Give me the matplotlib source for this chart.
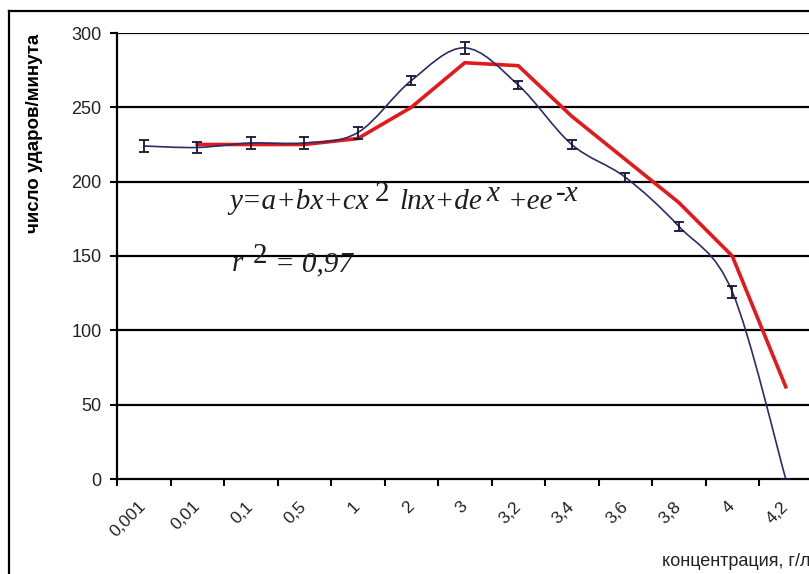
import numpy as np
import matplotlib.pyplot as plt
import matplotlib.transforms as mtransforms
from matplotlib.path import Path
from matplotlib.patches import PathPatch
from matplotlib.lines import Line2D

plt.rcParams['font.family'] = ['Liberation Sans', 'DejaVu Sans']

# concentration categories, g/l
categories = ['0,001', '0,01', '0,1', '0,5', '1', '2', '3', '3,2', '3,4', '3,6', '3,8', '4', '4,2']
# measured heart rate (beats/min) and error
measured = [224, 223, 226, 226, 233, 268, 290, 265, 225, 203, 170, 126, 0]
errors = [4, 4, 4, 4, 4, 3, 4, 3, 3, 3, 3, 4, 0]
# fitted curve
fitted = [np.nan, 225, 225, 225, 229, 250, 280, 278, 244, 215, 186, 150, 62]


# smooth line like excel (bezier through the points)
def smooth_path(x, y):
    pts = np.column_stack([x, y]).astype(float)
    verts = [pts[0]]
    codes = [Path.MOVETO]
    n = len(pts)
    for i in range(n - 1):
        p0 = pts[max(i - 1, 0)]
        p1 = pts[i]
        p2 = pts[i + 1]
        p3 = pts[min(i + 2, n - 1)]
        verts += [p1 + (p2 - p0) / 6, p2 - (p3 - p1) / 6, p2]
        codes += [Path.CURVE4] * 3
    return Path(verts, codes)


# write a formula piece by piece, superscripts full size but raised
def formula(ax, xy, pieces, size):
    prev = None
    prev_raise = 0
    for txt, gap, rise, style in pieces:
        kw = dict(fontsize=size, family='Liberation Serif', style=style, color='#1e1e1e',
                  va='bottom', ha='left', annotation_clip=False)
        if prev is None:
            prev = ax.annotate(txt, xy=xy, xycoords='axes fraction', **kw)
        else:
            prev = ax.annotate(txt, xy=(1, 0), xycoords=prev, xytext=(gap, rise - prev_raise),
                               textcoords='offset pixels', **kw)
        prev_raise = rise


x = np.arange(len(categories))

fig = plt.figure(figsize=(8.09, 5.74), dpi=100)
ax = fig.add_axes([117 / 809, 1 - 479 / 574, 695.5 / 809, 446 / 574])

for v in range(50, 301, 50):
    ax.axhline(v, color='black', lw=1.6, zorder=1)

ax.add_patch(PathPatch(smooth_path(x, measured), fill=False, edgecolor='#2a2d66', lw=1.2, zorder=3))
ax.errorbar(x, measured, yerr=errors, fmt='none', ecolor='#151535', elinewidth=1.3,
            capsize=3.5, capthick=1.3, zorder=4)
ax.plot(x, fitted, color='#e3191c', lw=2.6, zorder=2)

ax.set_xlim(-0.5, len(categories) - 0.5)
ax.set_ylim(0, 300)
ax.set_yticks(range(0, 301, 50))
ax.set_xticks(np.arange(-0.5, len(categories), 1))
ax.set_xticklabels([])
ax.set_xticks(x, minor=True)
ax.set_xticklabels(categories, minor=True, rotation=45, ha='right', va='center',
                   rotation_mode='anchor', fontsize=12.5, color='#222222')
shift = mtransforms.ScaledTranslation(-12 / 100, 0, fig.dpi_scale_trans)
for lab in ax.get_xticklabels(minor=True):
    lab.set_transform(lab.get_transform() + shift)
ax.tick_params(axis='x', which='minor', length=0, pad=18)
ax.tick_params(axis='x', which='major', direction='out', length=5, width=1.5)
ax.tick_params(axis='y', direction='out', length=5, width=1.5, labelsize=13,
               labelcolor='#222222', pad=6)
for s in ['top', 'right']:
    ax.spines[s].set_visible(False)
for s in ['left', 'bottom']:
    ax.spines[s].set_linewidth(1.6)

formula(ax, (0.162, 0.592), [
    ('y=a+bx+cx', 0, 0, 'italic'),
    ('2', 5, 8, 'normal'),
    ('lnx+de', 11, 0, 'italic'),
    ('x', 4, 8, 'italic'),
    ('+ee', 8, 0, 'italic'),
    ('-x', 3, 8, 'italic'),
], 21)
formula(ax, (0.165, 0.453), [
    ('r', 0, 0, 'italic'),
    ('2', 10, 8, 'normal'),
    ('= 0,97', 7, 0, 'italic'),
], 21)

fig.text(35 / 809, 1 - 133 / 574, 'число ударов/минута', rotation=90, fontsize=13.5,
         fontweight='bold', ha='center', va='center')
fig.text(662 / 809, 1 - 562 / 574, 'концентрация, г/л', fontsize=13, color='#222222',
         ha='left', va='center')

# outer frame
fig.add_artist(Line2D([9 / 809, 9 / 809], [0, 1 - 11 / 574], color='black', lw=1.6,
                      transform=fig.transFigure))
fig.add_artist(Line2D([9 / 809, 1], [1 - 11 / 574, 1 - 11 / 574], color='black', lw=1.6,
                      transform=fig.transFigure))

fig.savefig('out.png', dpi=100)
